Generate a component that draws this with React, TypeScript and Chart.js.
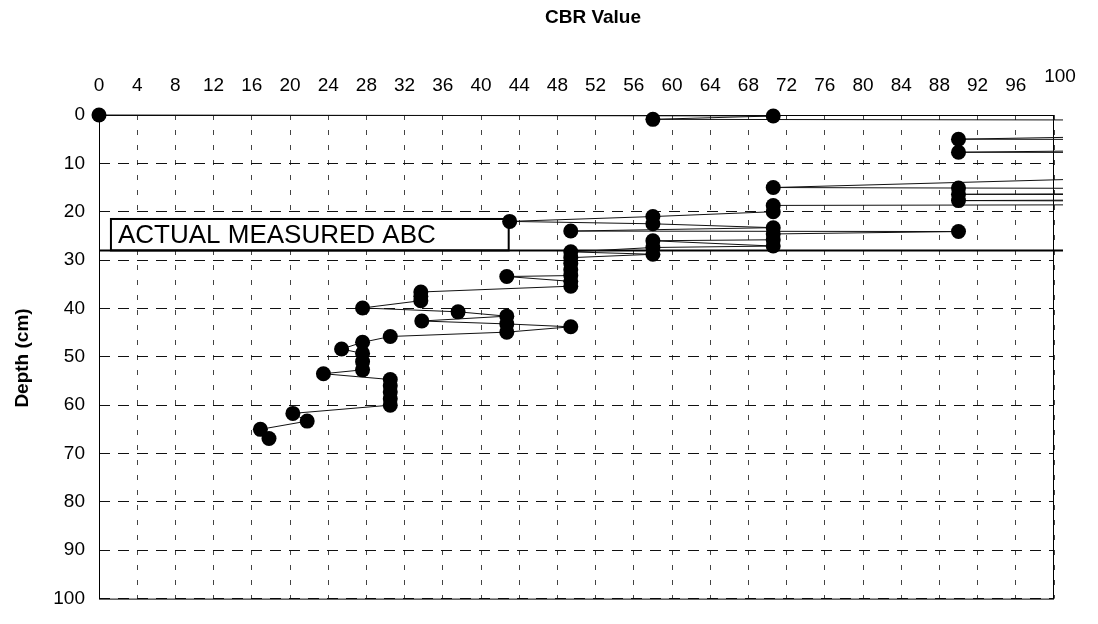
import React, { useEffect, useRef } from 'react';
import { Chart, registerables } from 'chart.js';

Chart.register(...registerables);

// CBR profile readings (ordered by depth); values above 100 run off the right edge
const cbrValues = [
  0, 70.6, 58, 200, 90, 200, 90, 200, 70.6, 90, 200, 90, 200, 90, 200, 70.6, 70.6,
  58, 43, 58, 70.6, 49.4, 90, 70.6, 70.6, 58, 70.6, 58, 49.4, 58, 49.4, 49.4, 49.4,
  49.4, 42.7, 49.4, 49.4, 33.7, 33.7, 33.7, 27.6, 37.6, 42.7, 33.8, 42.7, 49.4, 42.7,
  30.5, 27.6, 25.4, 27.6, 27.6, 27.6, 23.5, 30.5, 30.5, 30.5, 30.5, 30.5, 20.3, 21.8,
  16.9, 17.8,
];
const depthValues = [
  0, 0.2, 0.9, 1.3, 5.0, 5.4, 7.7, 8.0, 15.0, 15.1, 15.6, 16.4, 16.8, 17.7, 18.2, 18.7, 20.0,
  21.0, 22.0, 22.5, 23.3, 24.0, 24.1, 24.6, 25.8, 26.0, 27.1, 27.4, 28.3, 28.8, 29.5, 30.7, 32.0,
  33.2, 33.4, 34.4, 35.4, 36.6, 37.5, 38.4, 39.9, 40.7, 41.6, 42.6, 43.2, 43.8, 44.9,
  45.8, 47.0, 48.4, 49.3, 51.0, 52.7, 53.5, 54.7, 56.0, 57.3, 58.7, 60.0, 61.7, 63.3,
  65.0, 66.9,
];

// Bottom of the measured ABC layer
const abcLineCbr = [0, 101];
const abcLineDepth = [28, 28];

const xTickStep = 4;
const yTickStep = 10;
const xTitle = 'CBR Value';
const yTitle = 'Depth (cm)';
const abcLabel = 'ACTUAL MEASURED ABC';

const FONT = '"Liberation Sans", Arial, Helvetica, sans-serif';

const decorPlugin = {
  id: 'decor',
  beforeDatasetsDraw(chart: any) {
    const { ctx, chartArea, scales } = chart;
    const x = scales.x;
    const y = scales.y;
    ctx.save();
    // plot frame
    ctx.strokeStyle = '#000';
    ctx.lineWidth = 1;
    ctx.setLineDash([]);
    ctx.strokeRect(chartArea.left + 0.5, chartArea.top + 0.5, chartArea.right - chartArea.left - 1, chartArea.bottom - chartArea.top);
    // label box
    const l = x.getPixelForValue(1.25);
    const r = x.getPixelForValue(42.9);
    const t = y.getPixelForValue(21.5);
    const b = y.getPixelForValue(28);
    ctx.fillStyle = '#fff';
    ctx.fillRect(l, t, r - l, b - t);
    ctx.lineWidth = 2;
    ctx.strokeRect(l, t, r - l, b - t);
    ctx.fillStyle = '#000';
    ctx.font = `26px ${FONT}`;
    ctx.textAlign = 'left';
    ctx.textBaseline = 'middle';
    ctx.fillText(abcLabel, l + 7, (t + b) / 2 + 1);
    ctx.restore();
  },
  afterDraw(chart: any) {
    const { ctx, scales } = chart;
    const x = scales.x;
    ctx.save();
    ctx.fillStyle = '#000';
    ctx.font = `bold 19px ${FONT}`;
    ctx.textAlign = 'center';
    ctx.textBaseline = 'middle';
    ctx.fillText(xTitle, 593, 18);
    ctx.save();
    ctx.translate(23, 358);
    ctx.rotate(-Math.PI / 2);
    ctx.fillText(yTitle, 0, 0);
    ctx.restore();
    // last x tick label sits a little higher in the original
    ctx.font = `19px ${FONT}`;
    ctx.fillText(String(x.max), x.getPixelForValue(x.max) + 6, 77);
    ctx.restore();
  },
};

export default function App() {
  const canvasRef = useRef<HTMLCanvasElement | null>(null);

  useEffect(() => {
    const canvas = canvasRef.current;
    if (!canvas) return;
    const profile = cbrValues.map((v, i) => ({ x: v, y: depthValues[i] }));
    const abcLine = abcLineCbr.map((v, i) => ({ x: v, y: abcLineDepth[i] }));
    const chart = new Chart(canvas, {
      type: 'scatter',
      data: {
        datasets: [
          {
            data: profile,
            showLine: true,
            borderColor: '#111',
            borderWidth: 1,
            pointRadius: 7.5,
            pointBorderWidth: 0,
            pointBackgroundColor: '#000',
            pointHoverRadius: 7.5,
            tension: 0,
            clip: { left: 10, top: 10, right: 9, bottom: 10 } as any,
          },
          {
            data: abcLine,
            showLine: true,
            borderColor: '#000',
            borderWidth: 2,
            pointRadius: 0,
            tension: 0,
            clip: { left: 10, top: 10, right: 9, bottom: 10 } as any,
          },
        ],
      },
      options: {
        responsive: false,
        animation: false,
        layout: { padding: { top: 40, left: 0, right: 44, bottom: 12 } },
        plugins: {
          legend: { display: false },
          tooltip: { enabled: false },
          title: { display: false },
        },
        scales: {
          x: {
            type: 'linear',
            position: 'top',
            min: 0,
            max: 100,
            afterFit: (s: any) => {
              s.height = 75;
            },
            ticks: {
              stepSize: xTickStep,
              autoSkip: false,
              maxRotation: 0,
              padding: 18,
              color: '#000',
              font: { family: FONT, size: 19 },
              callback: (v: any) => (v === 100 ? '' : String(v)),
            },
            grid: { color: '#444', lineWidth: 1, drawTicks: false },
            border: { display: false, dash: [5, 10] },
          },
          y: {
            type: 'linear',
            reverse: true,
            min: 0,
            max: 100,
            afterFit: (s: any) => {
              s.width = 99;
            },
            ticks: {
              stepSize: yTickStep,
              padding: 14,
              color: '#000',
              font: { family: FONT, size: 19 },
            },
            grid: { color: '#111', lineWidth: 1, drawTicks: false },
            border: { display: false, dash: [11, 8] },
          },
        },
      },
      plugins: [decorPlugin],
    });
    return () => chart.destroy();
  }, []);

  return (
    <div style={{ position: 'absolute', left: 0, top: 0, width: 1098, height: 624, background: '#fff' }}>
      <canvas ref={canvasRef} width={1098} height={624} style={{ display: 'block' }} />
    </div>
  );
}
